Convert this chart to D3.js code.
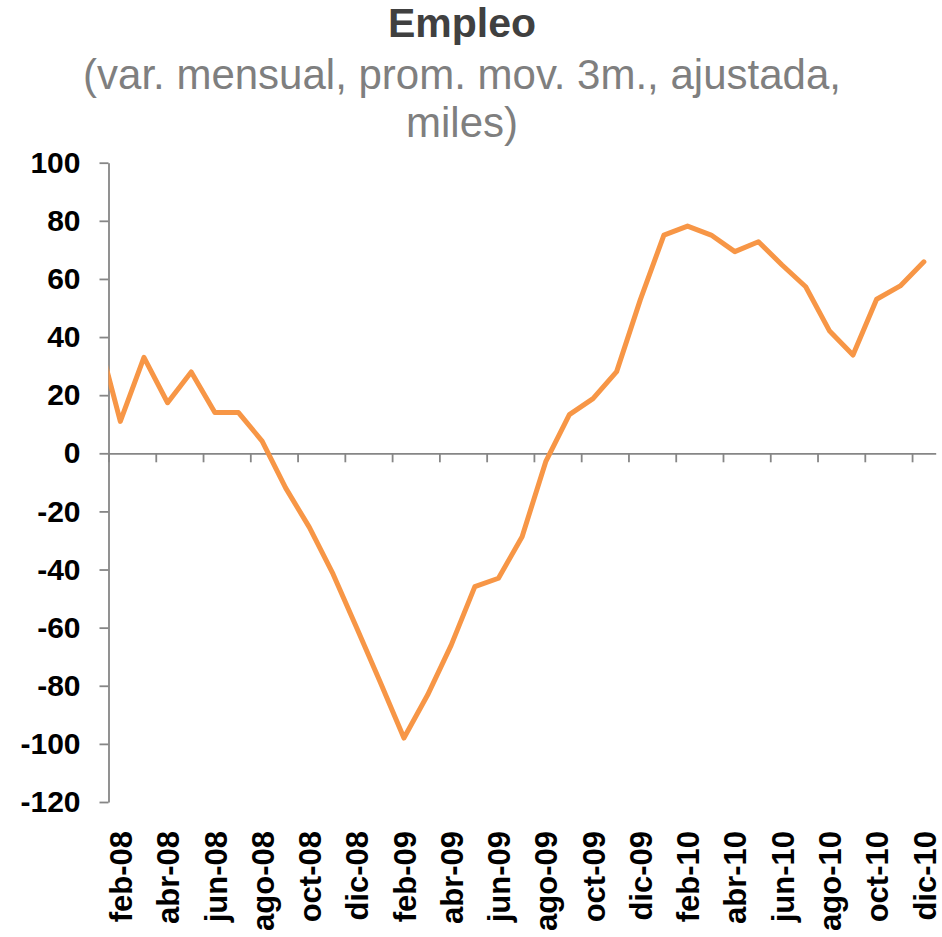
<!DOCTYPE html>
<html>
<head>
<meta charset="utf-8">
<script src="https://cdn.jsdelivr.net/npm/d3@7"></script>
<style>
  body { margin: 0; background: #fff; }
  text { font-family: "Liberation Sans", Arial, sans-serif; }
</style>
</head>
<body>
<div id="my_dataviz"></div>
<script>
// months from ene-08 to dic-10 (the first one falls left of the axis and gets clipped)
var months = ["ene-08","feb-08","mar-08","abr-08","may-08","jun-08","jul-08","ago-08","sep-08","oct-08","nov-08","dic-08",
  "ene-09","feb-09","mar-09","abr-09","may-09","jun-09","jul-09","ago-09","sep-09","oct-09","nov-09","dic-09",
  "ene-10","feb-10","mar-10","abr-10","may-10","jun-10","jul-10","ago-10","sep-10","oct-10","nov-10","dic-10"];

var empleo = [42, 11, 33, 17.4, 28, 14, 14, 4.2, -12, -25.5, -41.5, -60,
  -78.8, -98, -83.2, -66, -45.9, -43, -28.7, -2.9, 13.3, 18.8, 28.1, 52.8,
  75.1, 78.2, 75.1, 69.4, 72.8, 64.8, 57.3, 42.2, 33.8, 53, 57.6, 65.9];

var yTicks = [100, 80, 60, 40, 20, 0, -20, -40, -60, -80, -100, -120];

var width = 942, height = 937;
var plotLeft = 108.5, plotRight = 935.7, plotTop = 162.7, plotBottom = 802;

var svg = d3.select("#my_dataviz")
  .append("svg")
  .attr("width", width)
  .attr("height", height);

// title
svg.append("text")
  .attr("x", 462).attr("y", 37)
  .attr("text-anchor", "middle")
  .style("font-size", "41px").style("font-weight", "bold")
  .attr("fill", "#404040")
  .text("Empleo");

svg.append("text")
  .attr("x", 462).attr("y", 89)
  .attr("text-anchor", "middle")
  .style("font-size", "42px")
  .attr("fill", "#7f7f7f")
  .text("(var. mensual, prom. mov. 3m., ajustada,");

svg.append("text")
  .attr("x", 462).attr("y", 137)
  .attr("text-anchor", "middle")
  .style("font-size", "42px")
  .attr("fill", "#7f7f7f")
  .text("miles)");

// scales: category index, ticks sit between categories
var x = d3.scaleLinear().domain([0.5, 35.5]).range([plotLeft, plotRight]);
var y = d3.scaleLinear().domain([-120, 100]).range([plotBottom, plotTop]);

// Y axis
var yAxis = svg.append("g")
  .attr("transform", "translate(" + plotLeft + ",0)")
  .call(d3.axisLeft(y).tickValues(yTicks).tickSize(9).tickPadding(19).tickSizeOuter(0)
    .tickFormat(function (d) { return String(d); }));
yAxis.select(".domain").attr("stroke", "#868686").attr("stroke-width", 1.8);
yAxis.selectAll(".tick line").attr("stroke", "#868686").attr("stroke-width", 1.8);
yAxis.selectAll(".tick text")
  .style("font-size", "30px").style("font-weight", "bold")
  .attr("fill", "#000");

// X axis line on zero with tick marks every 2 months
var tickPos = d3.range(0.5, 35, 2);
var xAxis = svg.append("g")
  .attr("transform", "translate(0," + y(0) + ")")
  .call(d3.axisBottom(x).tickValues(tickPos).tickSize(9).tickSizeOuter(0).tickFormat(""));
xAxis.select(".domain").attr("stroke", "#868686").attr("stroke-width", 1.8);
xAxis.selectAll(".tick line").attr("stroke", "#868686").attr("stroke-width", 1.8);

// month labels at the bottom, every second month
var labelIdx = d3.range(1, 36, 2);
var xLabels = svg.append("g")
  .attr("transform", "translate(0,831)")
  .call(d3.axisBottom(x).tickValues(labelIdx).tickSize(0)
    .tickFormat(function (d) { return months[d]; }));
xLabels.select(".domain").remove();
xLabels.selectAll(".tick text")
  .attr("transform", "rotate(-90)")
  .attr("x", 0).attr("y", 0).attr("dy", "0.36em")
  .attr("text-anchor", "end")
  .style("font-size", "31px").style("font-weight", "bold")
  .attr("fill", "#000");

// clip to plot area
svg.append("clipPath").attr("id", "plotclip")
  .append("rect")
  .attr("x", plotLeft).attr("y", 0)
  .attr("width", plotRight - plotLeft + 10).attr("height", height);

var line = d3.line()
  .x(function (d, i) { return x(i); })
  .y(function (d) { return y(d); });

svg.append("path")
  .datum(empleo)
  .attr("clip-path", "url(#plotclip)")
  .attr("d", line)
  .attr("fill", "none")
  .attr("stroke", "#F79646")
  .attr("stroke-width", 5)
  .attr("stroke-linejoin", "round")
  .attr("stroke-linecap", "round");
</script>
</body>
</html>
